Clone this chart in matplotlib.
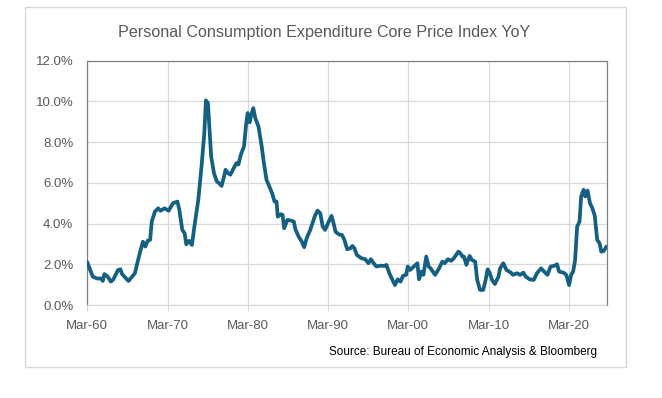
import matplotlib
matplotlib.use("Agg")
import matplotlib.pyplot as plt
from matplotlib import font_manager as fm
from matplotlib.patches import Rectangle

# ── font: narrow sans if we have one ────────────────────────────────────
names = {f.name for f in fm.fontManager.ttflist}
FONT = "Liberation Sans Narrow" if "Liberation Sans Narrow" in names else "Liberation Sans"
plt.rcParams["font.family"] = [FONT, "DejaVu Sans"]

# ── data (decimal year, YoY %) ──────────────────────────────────────────
years = [
    1960.17, 1960.85, 1961.4, 1961.9, 1962.1, 1962.3, 1962.7, 1963.1, 1963.4,
    1964.0, 1964.3, 1964.5, 1965.3, 1966.1, 1966.6, 1967.1, 1967.4, 1967.7,
    1968.0, 1968.2, 1968.6, 1969.0, 1969.3, 1969.8, 1970.3, 1970.85, 1971.4,
    1971.65, 1972.0, 1972.3, 1972.5, 1972.85, 1973.2, 1973.6, 1974.0, 1974.4,
    1974.75, 1974.95, 1975.2, 1975.6, 1975.95, 1976.3, 1976.6, 1976.9, 1977.2,
    1977.4, 1977.7, 1978.0, 1978.3, 1978.75, 1979.0, 1979.3, 1979.7, 1979.95,
    1980.15, 1980.4, 1980.6, 1980.85, 1981.1, 1981.5, 1981.9, 1982.2, 1982.5,
    1982.85, 1983.2, 1983.5, 1983.75, 1983.9, 1984.3, 1984.5, 1984.7, 1985.1,
    1985.5, 1985.9, 1986.1, 1986.5, 1986.9, 1987.2, 1987.5, 1987.95, 1988.5,
    1988.85, 1989.2, 1989.5, 1989.8, 1990.2, 1990.6, 1990.85, 1991.1, 1991.5,
    1991.9, 1992.2, 1992.55, 1992.95, 1993.2, 1993.45, 1993.75, 1994.3, 1994.8,
    1995.2, 1995.5, 1995.85, 1996.2, 1996.65, 1997.2, 1997.45, 1997.8, 1998.2,
    1998.5, 1998.85, 1999.2, 1999.5, 1999.9, 2000.1, 2000.4, 2000.85, 2001.3,
    2001.5, 2001.8, 2002.05, 2002.4, 2002.7, 2002.95, 2003.5, 2004.0, 2004.4,
    2004.7, 2005.1, 2005.5, 2005.85, 2006.4, 2006.6, 2006.9, 2007.1, 2007.4,
    2007.8, 2008.1, 2008.5, 2008.75, 2009.1, 2009.5, 2009.8, 2010.05, 2010.3,
    2010.6, 2010.95, 2011.4, 2011.6, 2012.0, 2012.4, 2012.95, 2013.2, 2013.7,
    2014.1, 2014.5, 2014.8, 2015.3, 2015.8, 2016.2, 2016.7, 2017.1, 2017.5,
    2017.9, 2018.3, 2018.7, 2018.95, 2019.5, 2019.85, 2020.2, 2020.45, 2020.7,
    2020.95, 2021.2, 2021.5, 2021.7, 2022.0, 2022.2, 2022.5, 2022.8, 2023.1,
    2023.4, 2023.7, 2024.0, 2024.2, 2024.5, 2024.86,
]
pce_core = [
    2.10, 1.39, 1.30, 1.30, 1.18, 1.52, 1.40, 1.15, 1.25,
    1.72, 1.75, 1.52, 1.18, 1.56, 2.38, 3.11, 2.87, 3.16,
    3.20, 4.10, 4.59, 4.75, 4.63, 4.75, 4.63, 5.00, 5.08,
    4.65, 3.69, 3.52, 2.98, 3.15, 2.95, 4.10, 5.16, 6.80,
    8.44, 10.05, 9.92, 7.30, 6.48, 6.07, 5.98, 5.85, 6.30,
    6.64, 6.48, 6.40, 6.64, 6.97, 6.90, 7.38, 7.80, 8.85,
    9.43, 8.97, 9.35, 9.67, 9.18, 8.77, 7.79, 6.89, 6.15,
    5.82, 5.49, 5.08, 5.08, 4.34, 4.46, 4.43, 3.77, 4.18,
    4.15, 4.10, 3.72, 3.36, 3.11, 2.84, 3.28, 3.69, 4.34,
    4.64, 4.50, 3.85, 3.69, 4.05, 4.38, 4.02, 3.60, 3.47,
    3.44, 3.20, 2.74, 2.79, 2.90, 2.79, 2.46, 2.30, 2.25,
    2.05, 2.25, 2.05, 1.89, 1.93, 1.92, 1.97, 1.56, 1.23,
    0.98, 1.26, 1.15, 1.43, 1.48, 1.89, 1.72, 1.89, 2.05,
    1.26, 1.64, 1.48, 2.38, 1.89, 1.80, 1.48, 1.80, 2.13,
    2.05, 2.25, 2.17, 2.30, 2.62, 2.57, 2.38, 2.38, 1.97,
    2.41, 2.21, 2.13, 1.23, 0.74, 0.74, 1.23, 1.75, 1.59,
    1.23, 1.03, 1.39, 1.80, 2.05, 1.72, 1.59, 1.48, 1.56,
    1.48, 1.59, 1.39, 1.26, 1.23, 1.56, 1.80, 1.64, 1.48,
    1.89, 1.92, 2.00, 1.64, 1.59, 1.48, 0.98, 1.48, 1.64,
    2.21, 3.85, 4.10, 5.33, 5.66, 5.33, 5.62, 5.00, 4.75,
    4.38, 3.20, 3.03, 2.62, 2.65, 2.87,
]

tick_years  = [1960.17, 1970.17, 1980.17, 1990.17, 2000.17, 2010.17, 2020.17]
tick_labels = ["Mar-60", "Mar-70", "Mar-80", "Mar-90", "Mar-00", "Mar-10", "Mar-20"]
y_ticks     = [0, 2, 4, 6, 8, 10, 12]

TITLE  = "Personal Consumption Expenditure Core Price Index YoY"
SOURCE = "Source: Bureau of Economic Analysis & Bloomberg"

LINE_C = "#156082"
GRID_C = "#d9d9d9"
TEXT_C = "#595959"

# ── figure ──────────────────────────────────────────────────────────────
W, H = 662, 398
fig = plt.figure(figsize=(W / 100, H / 100), dpi=100)
ax = fig.add_axes([87.3 / W, 1 - 305 / H, (606.5 - 87.3) / W, (305 - 60.7) / H])

# outer chart frame
fig.patches.append(Rectangle((25.3 / W, 1 - 367 / H), (625.7 - 25.3) / W,
                             (367 - 7) / H, transform=fig.transFigure,
                             fill=False, edgecolor=GRID_C, linewidth=1.0))

ax.plot(years, pce_core, color=LINE_C, linewidth=2.7,
        solid_joinstyle="round", solid_capstyle="round", zorder=3)

ax.set_xlim(tick_years[0], 2024.86)
ax.set_ylim(0, 12)
ax.set_yticks(y_ticks)
ax.set_yticklabels([f"{v:.1f}%" for v in y_ticks])
ax.set_xticks(tick_years)
ax.set_xticklabels(tick_labels)

ax.grid(True, color=GRID_C, linewidth=0.9, zorder=0)
ax.tick_params(axis="y", length=0, pad=10, labelsize=9.5, labelcolor=TEXT_C)
ax.tick_params(axis="x", length=4, width=0.8, color=GRID_C, pad=7,
               labelsize=9.5, labelcolor=TEXT_C)

for side in ["left", "top", "right"]:
    ax.spines[side].set_color("#808080")
    ax.spines[side].set_linewidth(0.9)
ax.spines["bottom"].set_color(GRID_C)
ax.spines["bottom"].set_linewidth(0.9)

fig.text(324 / W, 1 - 32 / H, TITLE, ha="center", va="center",
         fontsize=11.6, color=TEXT_C)
fig.text(597 / W, 1 - 352 / H, SOURCE, ha="right", va="center",
         fontsize=8.5, color="#000000")

plt.savefig("out.png", dpi=100)
plt.close()
